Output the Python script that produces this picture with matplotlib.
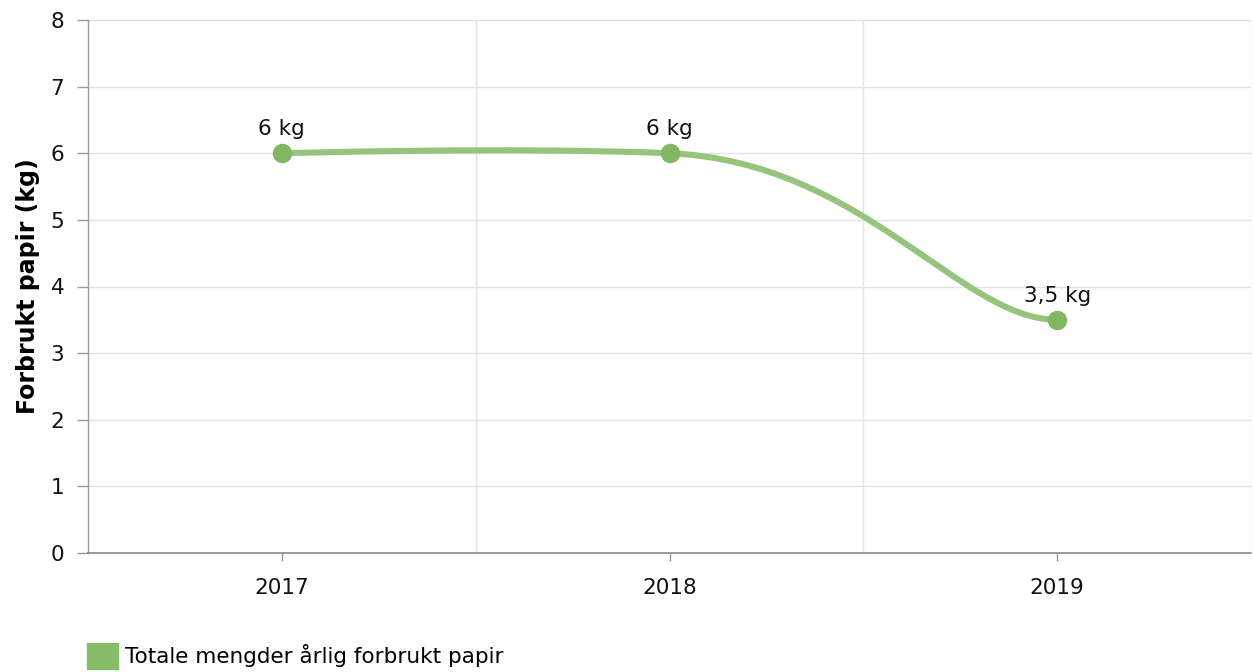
import matplotlib
matplotlib.use("Agg")
import matplotlib.pyplot as plt
from matplotlib.path import Path
from matplotlib.patches import PathPatch, Patch

# data
aar = ["2017", "2018", "2019"]
forbruk = [6, 6, 3.5]
serie_navn = "Totale mengder årlig forbrukt papir"

# utseende
linje_farge = "#96c47d"
punkt_farge = "#80b760"
legend_farge = "#86bb67"
grid_farge = "#e3e3e3"
akse_farge = "#999999"
fs = 15.5

# styrepunkter for glatt linje (andel av intervallet + stigning i hvert punkt)
hank_ut = [0.0, 0.5]
hank_inn = [0.4, 0.25]
demping = 0.2


def glatt_sti(xs, ys):
    # damped catmull-rom tangenter, flate i endepunktene
    n = len(xs)
    stig = [0.0] * n
    for i in range(1, n - 1):
        stig[i] = demping * (ys[i + 1] - ys[i - 1]) / (xs[i + 1] - xs[i - 1])
    verts = [(xs[0], ys[0])]
    codes = [Path.MOVETO]
    for i in range(n - 1):
        dx = xs[i + 1] - xs[i]
        a = hank_ut[i] * dx
        b = hank_inn[i] * dx
        verts += [(xs[i] + a, ys[i] + stig[i] * a),
                  (xs[i + 1] - b, ys[i + 1] - stig[i + 1] * b),
                  (xs[i + 1], ys[i + 1])]
        codes += [Path.CURVE4] * 3
    return Path(verts, codes)


plt.rcParams["font.family"] = ["DejaVu Sans"]
fig = plt.figure(figsize=(12.54, 6.72), dpi=100)
ax = fig.add_axes([88 / 1254, 1 - 553 / 672, (1251 - 88) / 1254, (553 - 20) / 672])

x = list(range(len(aar)))
ax.set_xlim(-0.5, len(aar) - 0.5)
ax.set_ylim(0, 8)

# rutenett
for yv in range(0, 9):
    ax.axhline(yv, color=grid_farge, lw=1, zorder=0)
for xv in [i + 0.5 for i in x]:
    ax.axvline(xv, color=grid_farge, lw=1, zorder=0)

ax.add_patch(PathPatch(glatt_sti(x, forbruk), fill=False, edgecolor=linje_farge,
                       lw=4.4, capstyle="round", zorder=3))
ax.plot(x, forbruk, "o", ms=13, color=punkt_farge, zorder=4)

for xi, v in zip(x, forbruk):
    tekst = (f"{v:g}" + " kg").replace(".", ",")
    ax.annotate(tekst, (xi, v), xytext=(0, 10), textcoords="offset points",
                ha="center", va="bottom", fontsize=fs, color="#111111", zorder=5)

ax.set_xticks(x)
ax.set_xticklabels(aar)
ax.set_yticks(range(0, 9))
ax.tick_params(axis="y", length=8, width=1, color=akse_farge, pad=9,
               labelsize=fs, labelcolor="#111111")
ax.tick_params(axis="x", length=6, width=1, color=akse_farge, pad=12,
               labelsize=fs, labelcolor="#111111")
for s in ["top", "right"]:
    ax.spines[s].set_visible(False)
ax.spines["left"].set_color(akse_farge)
ax.spines["bottom"].set_color("#888888")
ax.spines["left"].set_linewidth(1)
ax.spines["bottom"].set_linewidth(1.2)

ax.set_ylabel("Forbrukt papir (kg)", fontsize=17, fontweight="bold", labelpad=8)

fig.legend(handles=[Patch(color=legend_farge, label=serie_navn)],
           loc="center left", bbox_to_anchor=(87 / 1254, 1 - 656 / 672),
           frameon=False, fontsize=fs, handlelength=1.44, handleheight=1.44,
           handletextpad=0.33, borderpad=0, borderaxespad=0)

fig.savefig("out.png", dpi=100)
